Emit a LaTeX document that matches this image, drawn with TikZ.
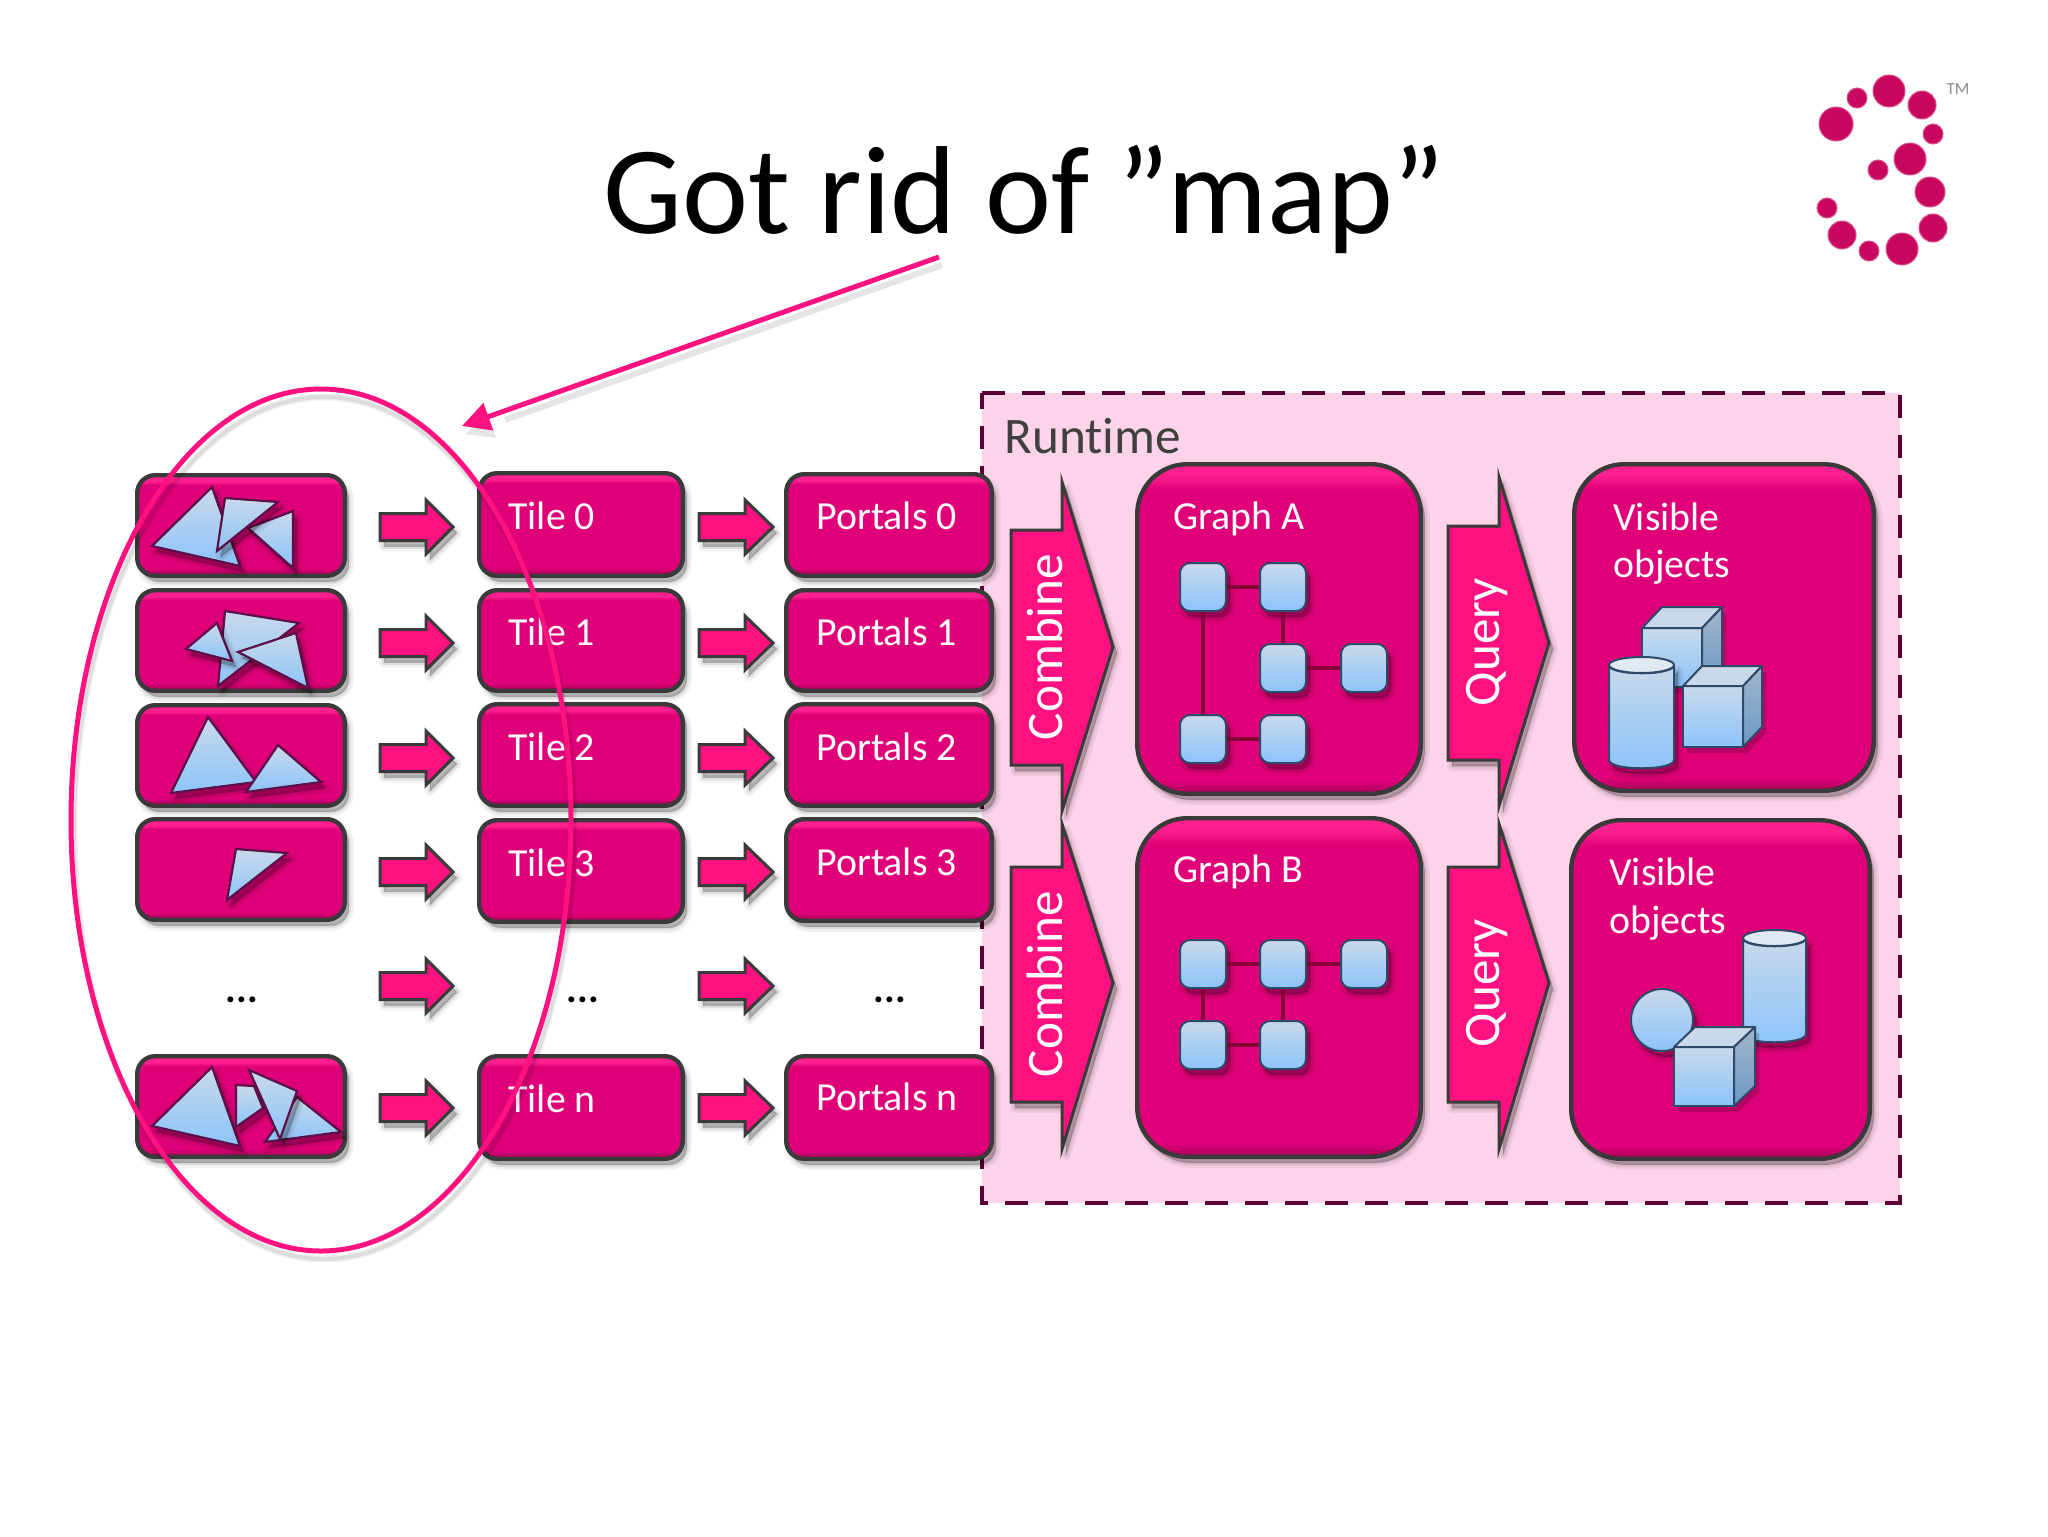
\documentclass[tikz,border=0pt]{standalone}
\usepackage{fontspec}
\setmainfont{Carlito}[Ligatures=NoCommon]
\usetikzlibrary{arrows.meta}
\definecolor{boxedge}{HTML}{3A3A3A}
\definecolor{hotpink}{HTML}{FF1280}
\definecolor{runfill}{HTML}{FDD3E9}
\definecolor{rundash}{HTML}{5A0036}
\definecolor{bluetop}{HTML}{C9D9EA}
\definecolor{bluebot}{HTML}{8CC4FA}
\definecolor{triedge}{HTML}{5C1048}
\definecolor{navy}{HTML}{2F4A68}
\definecolor{wire}{HTML}{85003A}
\definecolor{logo}{HTML}{C8085F}
\definecolor{bevellow}{HTML}{B4005F}
\definecolor{bevelmid}{HTML}{DF0079}
\definecolor{bevelhigh}{HTML}{FF2090}
\pgfdeclareverticalshading{tileshade}{100bp}{
 color(0bp)=(bevellow);
 color(26bp)=(bevellow);
 color(29bp)=(bevelmid);
 color(70bp)=(bevelmid);
 color(72bp)=(bevelhigh);
 color(100bp)=(bevelhigh)}
\pgfdeclareverticalshading{bigshade}{100bp}{
 color(0bp)=(bevellow);
 color(25.5bp)=(bevellow);
 color(27bp)=(bevelmid);
 color(71bp)=(bevelmid);
 color(73.5bp)=(bevelhigh);
 color(100bp)=(bevelhigh)}
\tikzset{
 softsh/.style={
  preaction={draw=black,fill=black,draw opacity=.05,fill opacity=.08,line width=5pt,line join=round,transform canvas={xshift=2pt,yshift=-3pt}},
  preaction={draw=black,fill=black,draw opacity=.07,fill opacity=.08,line width=2.5pt,line join=round,transform canvas={xshift=2pt,yshift=-3pt}},
  preaction={draw=black,fill=black,draw opacity=.09,fill opacity=.10,line width=.5pt,line join=round,transform canvas={xshift=2pt,yshift=-3pt}}},
 softline/.style={
  preaction={draw=black,draw opacity=.06,line width=3.5pt,transform canvas={xshift=1.5pt,yshift=-4pt}},
  preaction={draw=black,draw opacity=.08,line width=2pt,transform canvas={xshift=1.5pt,yshift=-4pt}}},
 pinkbase/.style={rectangle,draw=boxedge,line width=2.2pt,inner sep=0pt,softsh},
 tilebox/.style={pinkbase,rounded corners=9pt,shading=tileshade,shading angle=0},
 bigbox/.style={pinkbase,rounded corners=25pt,shading=bigshade,shading angle=0},
 tiletext/.style={anchor=base west,text=white,font=\fontsize{19.9}{24}\selectfont,inner sep=0pt},
 dotstext/.style={anchor=base,text=black,font=\bfseries\fontsize{20}{24}\selectfont,inner sep=0pt},
 blockarrow/.style={draw=boxedge,line width=1.5pt,fill=hotpink,line join=miter,miter limit=10,softsh},
 chevtext/.style={rotate=90,anchor=base,text=white,font=\fontsize{25.6}{30}\selectfont,inner sep=0pt},
 bluetile/.style={rectangle,rounded corners=5pt,draw=navy,line width=1pt,top color=bluetop,bottom color=bluebot,inner sep=0pt,minimum width=23pt,minimum height=24pt,softsh},
 wireedge/.style={draw=wire,line width=2.2pt},
 tri/.style={draw=triedge,line width=1.1pt,top color=bluetop,bottom color=bluebot,line join=miter,softsh},
 solidface/.style={draw=navy,line width=1pt,line join=round},
 hotline/.style={draw=hotpink,line width=2.5pt}
}
% name, x0, y0, x1, y1, style
\newcommand{\pinkbox}[6]{%
 \pgfmathsetmacro{\bw}{(#4-#2)*0.5-1.2}\pgfmathsetmacro{\bh}{(#5-#3)*0.5-1.2}%
 \pgfmathsetmacro{\cx}{(#2+#4)/2}\pgfmathsetmacro{\cy}{(#3+#5)/2}%
 \node[#6,minimum width=\bw pt,minimum height=\bh pt] (#1) at (\cx,\cy) {};}
% x-left, x-neck, x-tip, y-center
\newcommand{\flowarrow}[4]{%
 \draw[blockarrow] (#1,#4-13.5) -- (#2,#4-13.5) -- (#2,#4-27) -- (#3,#4) -- (#2,#4+27) -- (#2,#4+13.5) -- (#1,#4+13.5) -- cycle;}
% x-left, x-neck, x-tip, y-headtop, y-bodytop, y-tip, y-bodybot, y-headbot
\newcommand{\chevron}[8]{%
 \draw[blockarrow] (#1,#5) -- (#2,#5) -- (#2,#4) -- (#3,#6) -- (#2,#8) -- (#2,#7) -- (#1,#7) -- cycle;}
% fx0, fy0, fx1, fy1, dx, dy
\newcommand{\cube}[6]{%
 \fill[black,opacity=.18,transform canvas={xshift=2pt,yshift=-3pt}] (#1,#2) -- (#1+#5,#2+#6) -- (#3+#5,#2+#6) -- (#3+#5,#4+#6) -- (#3,#4) -- (#1,#4) -- cycle;
 \shade[solidface,top color=bluetop,bottom color=bluebot] (#1,#2) rectangle (#3,#4);
 \fill[solidface,fill=bluetop] (#1,#2) -- (#1+#5,#2+#6) -- (#3+#5,#2+#6) -- (#3,#2) -- cycle;
 \shade[solidface,top color=bluetop!75!navy,bottom color=bluebot!65!navy] (#3,#2) -- (#3+#5,#2+#6) -- (#3+#5,#4+#6) -- (#3,#4) -- cycle;}
% x0, x1, ytop, ybot
\newcommand{\cylinder}[4]{%
 \pgfmathsetmacro{\cymid}{(#1+#2)/2}\pgfmathsetmacro{\cyrad}{(#2-#1)/2}%
 \shade[solidface,top color=bluetop,bottom color=bluebot,softsh] (#1,#3) -- (#1,#4) .. controls (#1,#4+11) and (#2,#4+11) .. (#2,#4) -- (#2,#3) .. controls (#2,#3+11) and (#1,#3+11) .. (#1,#3) -- cycle;
 \fill[solidface,fill=bluetop!55!white] (\cymid,#3) ellipse [x radius=\cyrad,y radius=8];}
\begin{document}
\begin{tikzpicture}[x=0.5pt,y=-0.5pt]
\useasboundingbox (0,0) rectangle (2048,1536);
\fill[white] (0,0) rectangle (2048,1536);

% title
\node[anchor=base west,inner sep=0pt,font=\fontsize{62.6}{70}\selectfont,text=black] (title) at (603,233) {Got rid of ”map”};

% logo
\foreach \lx/\ly/\lr in {1836/124/17,1857/98/10,1889/91/16,1922/105/14,1933/134/10,1910/159/16,1878/170/10,1930/192/15,1827/208/10,1933/228/14,1842/235/14,1869/251/10,1902/249/16}
 \fill[logo,draw=logo!70!white,line width=.5pt] (\lx,\ly) circle [radius=\lr];
\node[anchor=center,inner sep=0pt,text=black!45,font=\fontsize{8.5}{10}\selectfont] (tm) at (1958,89) {TM};

% runtime panel
\draw[fill=runfill,draw=none] (982,393) rectangle (1900,1203);
\draw[draw=rundash,line width=2.4pt,dash pattern=on 11.5pt off 8.5pt] (982,393) -- (1900,393) -- (1900,1203) -- (982,1203) -- cycle;
\node[anchor=base west,inner sep=0pt,text=black!75,font=\fontsize{25.6}{30}\selectfont] (runtime) at (1004,453) {Runtime};

% column 1
\pinkbox{src0}{136}{474}{346}{577}{tilebox}
\pinkbox{src1}{136}{589}{346}{692}{tilebox}
\pinkbox{src2}{136}{704}{346}{807}{tilebox}
\pinkbox{src3}{136}{818}{346}{921}{tilebox}
\pinkbox{srcn}{136}{1055}{346}{1158}{tilebox}
% column 2
\pinkbox{tile0}{478}{472}{684}{577}{tilebox}
\pinkbox{tile1}{478}{589}{684}{692}{tilebox}
\pinkbox{tile2}{478}{703}{684}{807}{tilebox}
\pinkbox{tile3}{478}{819}{684}{923}{tilebox}
\pinkbox{tilen}{478}{1055}{684}{1160}{tilebox}
% column 3
\pinkbox{port0}{785}{473}{993}{577}{tilebox}
\pinkbox{port1}{785}{589}{993}{692}{tilebox}
\pinkbox{port2}{785}{703}{993}{807}{tilebox}
\pinkbox{port3}{785}{818}{993}{922}{tilebox}
\pinkbox{portn}{785}{1055}{993}{1160}{tilebox}

\node[tiletext] (t0) at (508,529) {Tile 0};
\node[tiletext] (t1) at (508,645) {Tile 1};
\node[tiletext] (t2) at (508,760) {Tile 2};
\node[tiletext] (t3) at (508,876) {Tile 3};
\node[tiletext] (tn) at (508,1112) {Tile n};
\node[tiletext] (p0) at (816,529) {Portals 0};
\node[tiletext] (p1) at (816,645) {Portals 1};
\node[tiletext] (p2) at (816,760) {Portals 2};
\node[tiletext] (p3) at (816,875) {Portals 3};
\node[tiletext] (pn) at (816,1110) {Portals n};
\node[dotstext] (d1) at (242,1002) {...};
\node[dotstext] (d2) at (583,1002) {...};
\node[dotstext] (d3) at (890,1002) {...};

% flow arrows
\foreach \yy in {527,643,758,872,986,1108}{
 \flowarrow{380}{426}{453}{\yy}
 \flowarrow{699}{745}{773}{\yy}
}

% triangles
\draw[tri] (212,487) -- (152,546) -- (240,566) -- cycle;
\draw[tri] (293,511) -- (248,528) -- (293,568) -- cycle;
\draw[tri] (225,498) -- (278,502) -- (217,551) -- cycle;
\draw[tri] (225,611) -- (299,623) -- (218,686) -- cycle;
\draw[tri] (296,633) -- (238,652) -- (308,688) -- cycle;
\draw[tri] (217,623) -- (186,649) -- (232,661) -- cycle;
\draw[tri] (208,717) -- (171,793) -- (256,782) -- cycle;
\draw[tri] (278,745) -- (246,792) -- (321,782) -- cycle;
\draw[tri] (236,849) -- (287,853) -- (227,900) -- cycle;
\draw[tri] (212,1067) -- (152,1126) -- (240,1146) -- cycle;
\draw[tri] (236,1085) -- (254,1086) -- (263,1108) -- (236,1127) -- cycle;
\draw[tri] (297,1097) -- (341,1132) -- (265,1142) -- cycle;
\draw[tri] (249,1070) -- (297,1091) -- (280,1139) -- cycle;

% chevrons
\chevron{1011}{1062}{1113}{482}{530}{647}{765}{811}
\chevron{1011}{1062}{1113}{824}{867}{983}{1102}{1149}
\chevron{1448}{1499}{1549}{477}{526}{643}{760}{806}
\chevron{1448}{1499}{1549}{824}{867}{983}{1102}{1149}
\node[chevtext] (c1) at (1062,647) {Combine};
\node[chevtext] (c2) at (1062,984) {Combine};
\node[chevtext] (q1) at (1499,642) {Query};
\node[chevtext] (q2) at (1499,983) {Query};

% big boxes
\pinkbox{graphA}{1136}{463}{1422}{795}{bigbox}
\pinkbox{graphB}{1136}{817}{1422}{1158}{bigbox}
\pinkbox{visA}{1573}{463}{1875}{792}{bigbox}
\pinkbox{visB}{1570}{819}{1871}{1160}{bigbox}
\node[tiletext] (gA) at (1173,529) {Graph A};
\node[tiletext] (gB) at (1173,882) {Graph B};
\node[tiletext] (v1) at (1613,530) {Visible};
\node[tiletext] (v2) at (1613,577) {objects};
\node[tiletext] (v3) at (1609,885) {Visible};
\node[tiletext] (v4) at (1609,933) {objects};

% graph A
\node[bluetile] (a1) at (1203,587) {};
\node[bluetile] (a2) at (1283,587) {};
\node[bluetile] (a3) at (1283,668) {};
\node[bluetile] (a4) at (1364,668) {};
\node[bluetile] (a5) at (1203,739) {};
\node[bluetile] (a6) at (1283,739) {};
\draw[wireedge] (a1) -- (a2);
\draw[wireedge] (a2) -- (a3);
\draw[wireedge] (a3) -- (a4);
\draw[wireedge] (a1) -- (a5);
\draw[wireedge] (a5) -- (a6);
% graph B
\node[bluetile] (b1) at (1203,964) {};
\node[bluetile] (b2) at (1283,964) {};
\node[bluetile] (b3) at (1364,964) {};
\node[bluetile] (b4) at (1203,1045) {};
\node[bluetile] (b5) at (1283,1045) {};
\draw[wireedge] (b1) -- (b2);
\draw[wireedge] (b2) -- (b3);
\draw[wireedge] (b1) -- (b4);
\draw[wireedge] (b2) -- (b5);
\draw[wireedge] (b4) -- (b5);

% visible objects A
\cube{1642}{628}{1702}{687}{20}{-21}
\cube{1683}{686}{1743}{747}{19}{-20}
\cylinder{1609}{1674}{665}{760}
% visible objects B
\cylinder{1743}{1806}{938}{1034}
\shade[solidface,top color=bluetop,bottom color=bluebot,softsh] (1662,1020) circle [radius=31];
\cube{1674}{1047}{1734}{1106}{21}{-20}

% highlight ellipse and callout arrow
\draw[hotline,softline] (321,820) ellipse [x radius=250,y radius=431];
\coordinate (callfrom) at (939,257);
\coordinate (calltip) at (462,426);
\coordinate (shfrom) at (942,265);
\coordinate (shtip) at (505,420);
\draw[draw=black,draw opacity=.1,line width=3pt] (shfrom) -- (shtip);
\fill[black,opacity=.1] (466,434) -- (487,412) -- (496,438) -- cycle;
\draw[hotline,-{Triangle[length=14pt,width=14pt]}] (callfrom) -- (calltip);
\end{tikzpicture}
\end{document}
